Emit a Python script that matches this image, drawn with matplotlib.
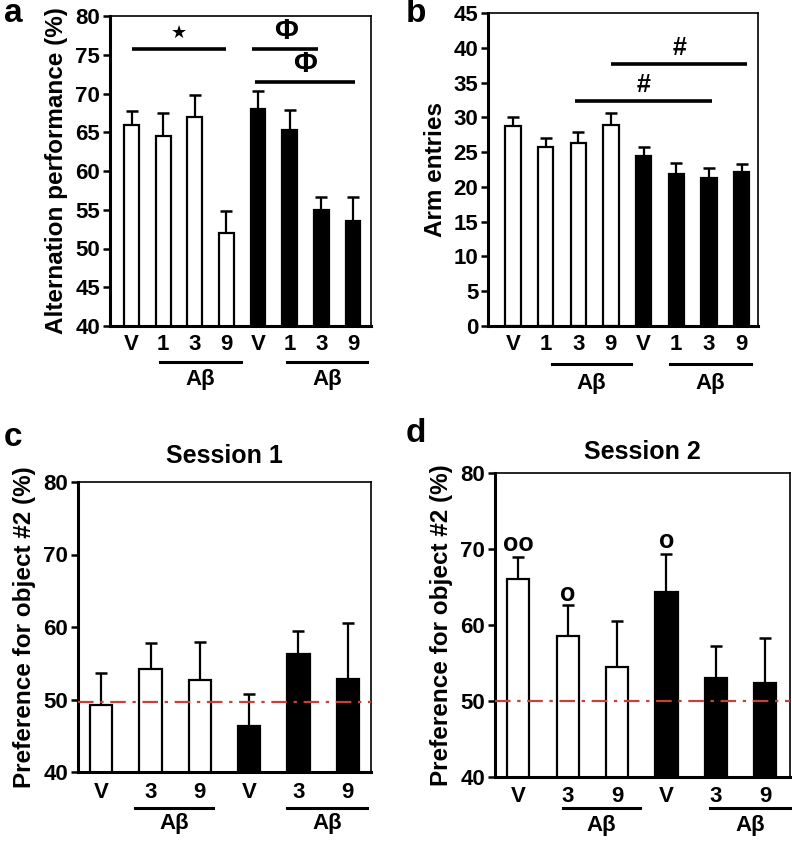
import matplotlib
matplotlib.use("Agg")
import matplotlib.pyplot as plt
from matplotlib.lines import Line2D

plt.rcParams['font.family'] = ['Liberation Sans', 'DejaVu Sans']
plt.rcParams['font.weight'] = 'bold'

# ---------------- data ----------------
labels_ab = ["V", "1", "3", "9", "V", "1", "3", "9"]
alt_mean = [66.0, 64.5, 67.0, 52.0, 68.0, 65.3, 55.0, 53.5]
alt_err = [1.7, 3.0, 2.8, 2.8, 2.3, 2.6, 1.7, 3.2]
arm_mean = [28.7, 25.8, 26.3, 28.9, 24.5, 21.9, 21.3, 22.2]
arm_err = [1.3, 1.3, 1.6, 1.7, 1.3, 1.6, 1.4, 1.1]
fill_ab = ["white"] * 4 + ["black"] * 4

labels_cd = ["V", "3", "9", "V", "3", "9"]
s1_mean = [49.2, 54.2, 52.7, 46.3, 56.3, 52.8]
s1_err = [4.4, 3.6, 5.3, 4.5, 3.1, 7.8]
s2_mean = [66.1, 58.6, 54.5, 64.4, 53.0, 52.4]
s2_err = [2.9, 4.0, 6.0, 4.9, 4.3, 5.9]
fill_cd = ["white"] * 3 + ["black"] * 3
chance_s1 = 49.6
chance_s2 = 50.0

W, H = 792, 844
fig = plt.figure(figsize=(W / 100, H / 100), dpi=100)

TICK_FS = 16
LAB_FS = 17.5


def add_ax(x0, y_top, x1, y_bot):
    return fig.add_axes([x0 / W, 1 - y_bot / H, (x1 - x0) / W, (y_bot - y_top) / H])


def style(ax, ylim, yticks, tick_fs):
    ax.set_ylim(*ylim)
    ax.set_yticks(yticks)
    ax.set_xticks([])
    ax.tick_params(axis='y', direction='out', length=5, width=1.8, labelsize=tick_fs, pad=2)
    for lab in ax.get_yticklabels():
        lab.set_fontweight('bold')
    ax.spines['left'].set_linewidth(2.2)
    ax.spines['bottom'].set_linewidth(2.2)
    ax.spines['top'].set_linewidth(1.2)
    ax.spines['right'].set_linewidth(1.2)


def bars(ax, means, errs, fills, width):
    x = list(range(len(means)))
    ax.bar(x, means, width=width, color=fills, edgecolor='black', linewidth=1.6,
           bottom=0, zorder=2)
    ax.errorbar(x, means, yerr=[[0] * len(errs), errs], fmt='none', ecolor='black',
                elinewidth=1.6, capsize=4, capthick=1.8, zorder=1)


def under_labels(ax, labels, px_axes_h, d_lab, d_line, d_txt, lines, fs):
    for i, l in enumerate(labels):
        ax.text(i, -d_lab / px_axes_h, l, transform=ax.get_xaxis_transform(),
                ha='center', va='center', fontsize=fs, fontweight='bold')
    for (a, b) in lines:
        ax.add_line(Line2D([a, b], [-d_line / px_axes_h] * 2, transform=ax.get_xaxis_transform(),
                           color='black', lw=2.2, clip_on=False))
        ax.text((a + b) / 2, -d_txt / px_axes_h, "Aβ", transform=ax.get_xaxis_transform(),
                ha='center', va='center', fontsize=fs, fontweight='bold')


# ---------------- panel a ----------------
ax = add_ax(110, 16, 371, 326)
bars(ax, alt_mean, alt_err, fill_ab, 0.47)
ax.set_xlim(-0.68, 7.57)
style(ax, (40, 80), range(40, 81, 5), TICK_FS)
ax.set_ylabel("Alternation performance (%)", fontsize=LAB_FS, fontweight='bold', labelpad=5)
under_labels(ax, labels_ab, 310, 18, 36, 53, [(0.9, 3.45), (4.9, 7.45)], TICK_FS)
ax.plot([0, 3.0], [75.8, 75.8], color='black', lw=2.6, solid_capstyle='butt')
ax.text(1.5, 77.8, "★", ha='center', va='center', fontsize=13, family='DejaVu Sans')
ax.plot([3.8, 5.9], [75.7, 75.7], color='black', lw=2.6, solid_capstyle='butt')
ax.text(4.9, 78.1, "Φ", ha='center', va='center', fontsize=21, fontweight='bold')
ax.plot([3.9, 7.05], [71.5, 71.5], color='black', lw=2.6, solid_capstyle='butt')
ax.text(5.5, 73.8, "Φ", ha='center', va='center', fontsize=21, fontweight='bold')
fig.text(13 / W, 1 - 14 / H, "a", fontsize=24, fontweight='bold', ha='center', va='center')

# ---------------- panel b ----------------
ax = add_ax(488, 13, 758, 326)
bars(ax, arm_mean, arm_err, fill_ab, 0.47)
ax.set_xlim(-0.76, 7.5)
style(ax, (0, 45), range(0, 46, 5), TICK_FS)
ax.set_ylabel("Arm entries", fontsize=LAB_FS, fontweight='bold', labelpad=5)
under_labels(ax, labels_ab, 313, 18, 38, 57, [(1.2, 3.6), (4.8, 7.3)], TICK_FS)
ax.plot([3.0, 7.15], [37.6, 37.6], color='black', lw=2.6, solid_capstyle='butt')
ax.text(5.1, 40.0, "#", ha='center', va='center', fontsize=18, fontweight='bold')
ax.plot([1.9, 6.1], [32.3, 32.3], color='black', lw=2.6, solid_capstyle='butt')
ax.text(4.0, 34.6, "#", ha='center', va='center', fontsize=18, fontweight='bold')
fig.text(416 / W, 1 - 14 / H, "b", fontsize=24, fontweight='bold', ha='center', va='center')

# ---------------- panel c ----------------
ax = add_ax(78, 482, 371, 772)
bars(ax, s1_mean, s1_err, fill_cd, 0.45)
ax.set_xlim(-0.47, 5.47)
style(ax, (40, 80), range(40, 81, 10), TICK_FS)
ax.set_ylabel("Preference for object #2 (%)", fontsize=LAB_FS, fontweight='bold', labelpad=5)
ax.axhline(chance_s1, color='#c8403c', lw=1.6, dashes=(7, 3, 1.5, 3), zorder=3)
under_labels(ax, labels_cd, 290, 20, 36, 52, [(0.69, 2.27), (3.77, 5.39)], TICK_FS)
ax.set_title("Session 1", fontsize=18, fontweight='bold', pad=14)
fig.text(13 / W, 1 - 437 / H, "c", fontsize=24, fontweight='bold', ha='center', va='center')

# ---------------- panel d ----------------
ax = add_ax(495, 473, 790, 777)
bars(ax, s2_mean, s2_err, fill_cd, 0.45)
ax.set_xlim(-0.47, 5.5)
style(ax, (40, 80), range(40, 81, 10), TICK_FS)
ax.set_ylabel("Preference for object #2 (%)", fontsize=LAB_FS, fontweight='bold', labelpad=5)
ax.axhline(chance_s2, color='#c8403c', lw=1.6, dashes=(7, 3, 1.5, 3), zorder=3)
under_labels(ax, labels_cd, 304, 19, 31, 48, [(0.91, 2.47), (3.89, 5.5)], TICK_FS)
ax.set_title("Session 2", fontsize=18, fontweight='bold', pad=10)
ax.text(0, 70.6, "oo", ha='center', va='center', fontsize=18, fontweight='bold')
ax.text(1, 64.1, "o", ha='center', va='center', fontsize=18, fontweight='bold')
ax.text(3, 71.1, "o", ha='center', va='center', fontsize=18, fontweight='bold')
fig.text(416 / W, 1 - 433 / H, "d", fontsize=24, fontweight='bold', ha='center', va='center')

fig.savefig("out.png", dpi=100)
